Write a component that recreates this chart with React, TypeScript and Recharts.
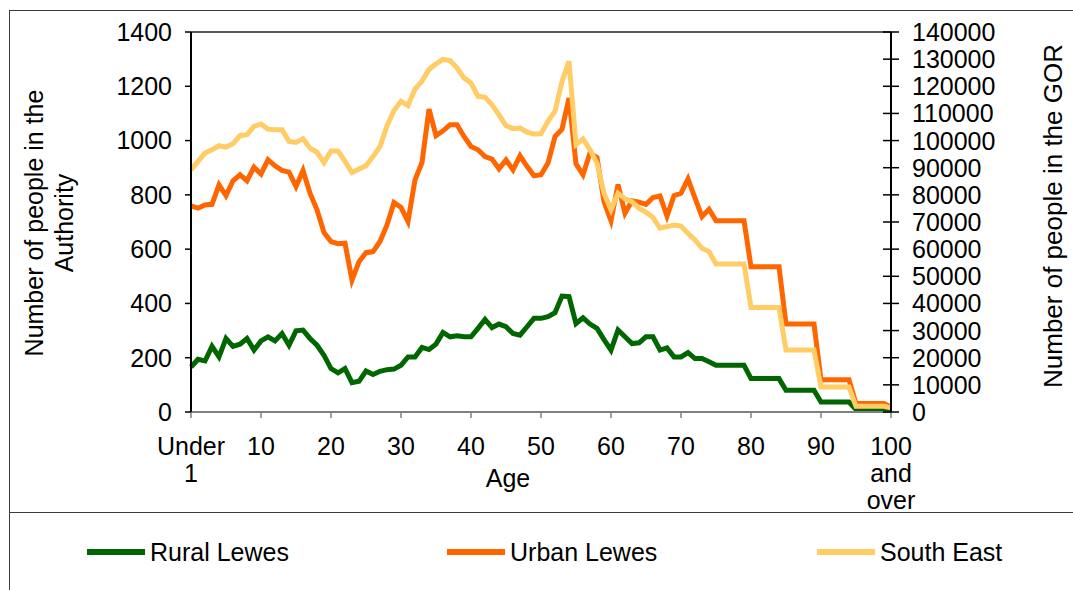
import { LineChart, Line, XAxis, YAxis, ReferenceLine } from "recharts";

// Population by single year of age (index = age, 0 = "Under 1", 100 = "100 and over")
const RURAL_LEWES = [
  166, 194, 188, 242, 203, 271, 242, 250, 271, 228,
  262, 277, 262, 289, 246, 299, 302, 271, 246, 209,
  160, 144, 160, 108, 113, 151, 138, 150, 156, 158,
  172, 203, 203, 238, 230, 250, 293, 277, 281, 277,
  277, 308, 341, 311, 324, 314, 289, 283, 314, 345,
  345, 351, 366, 427, 425, 326, 347, 324, 308, 267,
  228, 302, 277, 252, 255, 277, 277, 228, 236, 203,
  203, 219, 197, 197, 185, 172, 172, 172, 172, 172,
  123, 123, 123, 123, 123, 80, 80, 80, 80, 80,
  37, 37, 37, 37, 37, 9, 9, 9, 9, 9,
  6,
];

const URBAN_LEWES = [
  759, 751, 763, 765, 837, 797, 852, 874, 852, 902,
  877, 929, 907, 890, 884, 831, 890, 806, 745, 661,
  628, 620, 622, 486, 554, 587, 591, 628, 689, 772,
  754, 702, 855, 919, 1116, 1018, 1036, 1058, 1058, 1015,
  978, 966, 941, 932, 896, 929, 892, 944, 905, 870,
  874, 917, 1015, 1042, 1157, 914, 874, 954, 938, 775,
  705, 838, 732, 778, 773, 765, 790, 796, 722, 797,
  806, 859, 788, 720, 747, 705, 705, 705, 705, 705,
  535, 535, 535, 535, 535, 324, 324, 324, 324, 324,
  119, 119, 119, 119, 119, 31, 31, 31, 31, 31,
  18,
];

const SOUTH_EAST = [
  89200, 92300, 95400, 96600, 98100, 97600, 98800, 101800, 102200, 105200,
  106100, 104200, 104000, 104000, 99700, 99300, 100700, 97200, 95700, 91900,
  96200, 96200, 92300, 88200, 89500, 90700, 94100, 97800, 105500, 111100,
  114500, 112900, 119000, 121900, 126200, 128300, 129900, 129500, 126800, 123100,
  121200, 116300, 116000, 113200, 109500, 105500, 104400, 104600, 103100, 102400,
  102500, 107100, 110800, 121800, 129200, 98500, 100600, 96600, 91700, 80600,
  74500, 80600, 78500, 77500, 75100, 73600, 71700, 67700, 68300, 68900,
  68500, 65800, 63400, 60300, 59100, 54500, 54500, 54500, 54500, 54500,
  38500, 38500, 38500, 38500, 38500, 22800, 22800, 22800, 22800, 22800,
  9200, 9200, 9200, 9200, 9200, 2100, 2100, 2100, 2100, 2100,
  1500,
];

const X_TICKS = [0, 10, 20, 30, 40, 50, 60, 70, 80, 90, 100];
const X_TICK_LABELS = [
  ["Under", "1"], ["10"], ["20"], ["30"], ["40"], ["50"],
  ["60"], ["70"], ["80"], ["90"], ["100", "and", "over"],
];
const LEFT_TICKS = [0, 200, 400, 600, 800, 1000, 1200, 1400];
const RIGHT_TICKS = [
  0, 10000, 20000, 30000, 40000, 50000, 60000, 70000,
  80000, 90000, 100000, 110000, 120000, 130000, 140000,
];

const SERIES = [
  { key: "rural", name: "Rural Lewes", color: "#006600", axis: "left" },
  { key: "urban", name: "Urban Lewes", color: "#FF6600", axis: "left" },
  { key: "se", name: "South East", color: "#FFCC66", axis: "right" },
];

const FONT = '"Liberation Sans", Arial, sans-serif';
const FS = 25;

const data = RURAL_LEWES.map((v, age) => ({
  age,
  rural: v,
  urban: URBAN_LEWES[age],
  se: SOUTH_EAST[age],
}));

function AgeTick({ x, y, payload }: any) {
  const lines = X_TICK_LABELS[X_TICKS.indexOf(payload.value)] ?? [String(payload.value)];
  return (
    <text x={x} y={y} textAnchor="middle" fontSize={FS} fontFamily={FONT} fill="#000">
      {lines.map((l, i) => (
        <tspan key={i} x={x} dy={i === 0 ? 37 : 27}>{l}</tspan>
      ))}
    </text>
  );
}

// right axis ticks cross the axis line
function GorTick({ x, y, payload }: any) {
  return (
    <g>
      <line x1={x - 29} x2={x - 13} y1={y} y2={y} stroke="#000" strokeWidth={1.5} />
      <text x={x} y={y} dy="0.36em" textAnchor="start" fontSize={FS} fontFamily={FONT} fill="#000">
        {payload.value}
      </text>
    </g>
  );
}

const LEGEND_X = [87, 447, 817];

export default function App() {
  return (
    <div style={{ position: "absolute", left: 0, top: 0, width: 1073, height: 590, background: "#fff", overflow: "hidden" }}>
      {/* outer frame + legend separator */}
      <div style={{ position: "absolute", left: 9, top: 10, width: 1100, height: 620, border: "1.5px solid #3c3c3c" }} />
      <div style={{ position: "absolute", left: 9, top: 512, width: 1100, height: 0, borderTop: "1.5px solid #3c3c3c" }} />

      <div style={{ position: "absolute", left: 0, top: 0 }}>
        <LineChart width={1073} height={513} data={data} margin={{ top: 32, right: 82, bottom: 41, left: 91 }}>
          <XAxis
            dataKey="age"
            type="number"
            domain={[0, 100]}
            ticks={X_TICKS}
            interval={0}
            height={60}
            tickSize={6}
            tickMargin={0}
            axisLine={{ stroke: "#808080", strokeWidth: 2 }}
            tickLine={{ stroke: "#808080", strokeWidth: 1.5 }}
            tick={(p: any) => <AgeTick {...p} />}
          />
          <YAxis
            yAxisId="left"
            domain={[0, 1400]}
            ticks={LEFT_TICKS}
            interval={0}
            width={100}
            tickSize={6}
            tickMargin={13}
            axisLine={{ stroke: "#000", strokeWidth: 2 }}
            tickLine={{ stroke: "#000", strokeWidth: 1.5 }}
            tick={{ fill: "#000", fontSize: FS, fontFamily: FONT }}
          />
          <YAxis
            yAxisId="right"
            orientation="right"
            domain={[0, 140000]}
            ticks={RIGHT_TICKS}
            interval={0}
            width={100}
            tickSize={8}
            tickMargin={13}
            axisLine={{ stroke: "#000", strokeWidth: 2 }}
            tickLine={false}
            tick={(p: any) => <GorTick {...p} />}
          />
          <ReferenceLine yAxisId="left" y={1400} stroke="#222" strokeWidth={1.5} />
          {SERIES.map((s) => (
            <Line
              key={s.key}
              yAxisId={s.axis}
              dataKey={s.key}
              name={s.name}
              type="linear"
              stroke={s.color}
              strokeWidth={5}
              dot={false}
              activeDot={false}
              isAnimationActive={false}
            />
          ))}
        </LineChart>
      </div>

      {/* axis titles and legend */}
      <svg width={1073} height={590} style={{ position: "absolute", left: 0, top: 0, pointerEvents: "none" }}>
        <g fontFamily={FONT} fontSize={FS} fill="#000">
          <text transform="translate(43,223) rotate(-90)" textAnchor="middle">Number of people in the</text>
          <text transform="translate(73,223) rotate(-90)" textAnchor="middle">Authority</text>
          <text transform="translate(1062,216) rotate(-90)" textAnchor="middle" fontSize={26}>Number of people in the GOR</text>
          <text x={508} y={487} textAnchor="middle">Age</text>
          {SERIES.map((s, i) => (
            <g key={s.key}>
              <line x1={LEGEND_X[i]} x2={LEGEND_X[i] + 58} y1={552} y2={552} stroke={s.color} strokeWidth={6} />
              <text x={LEGEND_X[i] + 63} y={561}>{s.name}</text>
            </g>
          ))}
        </g>
      </svg>
    </div>
  );
}
